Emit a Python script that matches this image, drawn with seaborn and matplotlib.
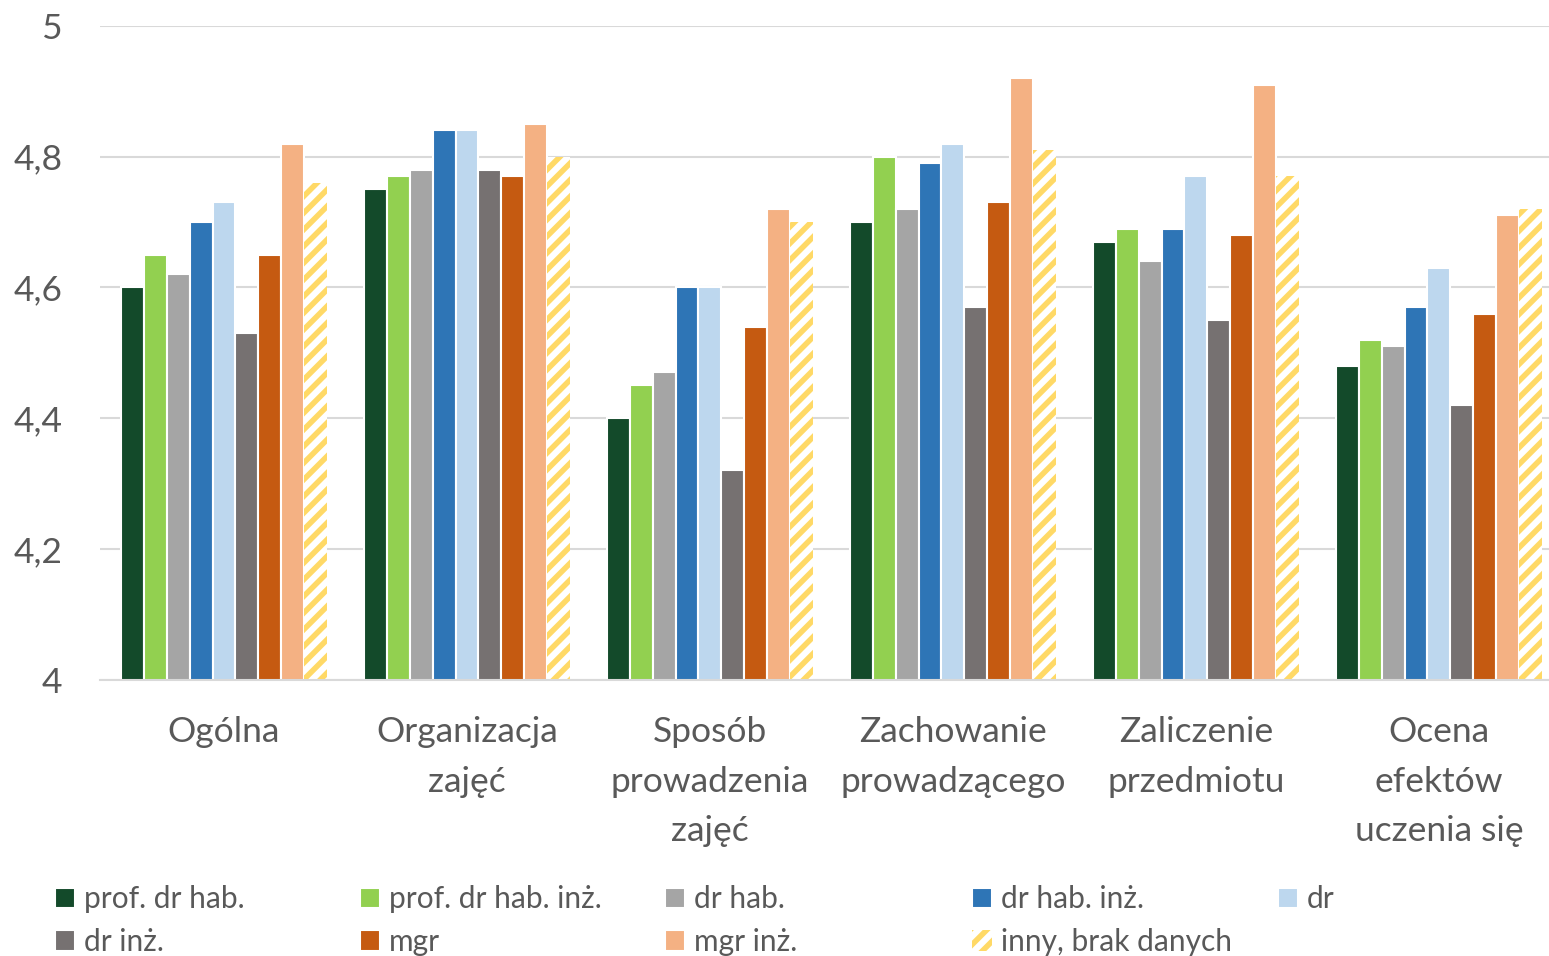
import matplotlib
matplotlib.use("Agg")
import matplotlib.pyplot as plt
import pandas as pd
import seaborn as sns

categories = [
    "Ogólna",
    "Organizacja\nzajęć",
    "Sposób\nprowadzenia\nzajęć",
    "Zachowanie\nprowadzącego",
    "Zaliczenie\nprzedmiotu",
    "Ocena\nefektów\nuczenia się",
]
groups = [
    "prof. dr hab.",
    "prof. dr hab. inż.",
    "dr hab.",
    "dr hab. inż.",
    "dr",
    "dr inż.",
    "mgr",
    "mgr inż.",
    "inny, brak danych",
]
prof_dr_hab = [4.60, 4.75, 4.40, 4.70, 4.67, 4.48]
prof_dr_hab_inz = [4.65, 4.77, 4.45, 4.80, 4.69, 4.52]
dr_hab = [4.62, 4.78, 4.47, 4.72, 4.64, 4.51]
dr_hab_inz = [4.70, 4.84, 4.60, 4.79, 4.69, 4.57]
dr = [4.73, 4.84, 4.60, 4.82, 4.77, 4.63]
dr_inz = [4.53, 4.78, 4.32, 4.57, 4.55, 4.42]
mgr = [4.65, 4.77, 4.54, 4.73, 4.68, 4.56]
mgr_inz = [4.82, 4.85, 4.72, 4.92, 4.91, 4.71]
inny = [4.76, 4.80, 4.70, 4.81, 4.77, 4.72]

series = [prof_dr_hab, prof_dr_hab_inz, dr_hab, dr_hab_inz, dr, dr_inz, mgr, mgr_inz, inny]
colors = ["#134A2A", "#92D050", "#A5A5A5", "#2E75B6", "#BDD7EE",
          "#767171", "#C55A11", "#F4B183", "#FFD966"]
yticks = [4.0, 4.2, 4.4, 4.6, 4.8, 5.0]
ytick_labels = ["4", "4,2", "4,4", "4,6", "4,8", "5"]

rows = []
for group, values in zip(groups, series):
    for cat, v in zip(categories, values):
        rows.append({"category": cat, "group": group, "value": v})
df = pd.DataFrame(rows)

sns.set_theme(style="white")
plt.rcParams["font.family"] = ["Lato", "DejaVu Sans"]
plt.rcParams["hatch.linewidth"] = 4.0
text_color = "#595959"

fig = plt.figure(figsize=(15.49, 9.56), dpi=100)
ax = fig.add_axes([0.0646, 0.289, 0.9354, 0.684])

sns.barplot(data=df, x="category", y="value", hue="group", order=categories,
            hue_order=groups, palette=colors, width=0.85, saturation=1,
            edgecolor="white", linewidth=1.5, legend=False, ax=ax)

# last series is drawn as yellow diagonal stripes on white
for patch in ax.containers[-1]:
    patch.set_facecolor("white")
    patch.set_edgecolor(colors[-1])
    patch.set_linewidth(0)
    patch.set_hatch("//")

ax.set_xlim(-0.51, 5.453)
ax.set_ylim(4.0, 5.0)
ax.set_yticks(yticks)
ax.set_yticklabels(ytick_labels)
ax.yaxis.grid(True, color="#D9D9D9", linewidth=1.5)
ax.set_axisbelow(True)
for side in ["top", "right", "left"]:
    ax.spines[side].set_visible(False)
ax.spines["bottom"].set_color("#D9D9D9")
ax.spines["bottom"].set_linewidth(1.5)
ax.set_xlabel("")
ax.set_ylabel("")
ax.tick_params(axis="both", length=0, labelcolor=text_color)
ax.tick_params(axis="x", labelsize=25.5, pad=26)
ax.tick_params(axis="y", labelsize=25.5, pad=27)
for lbl in ax.get_xticklabels():
    lbl.set_linespacing(1.68)
    lbl.set_va("top")

# legend: 5 columns at equal spacing, filled row-wise
handles = [c[0] for c in ax.containers]
col_x = [0.0355, 0.2324, 0.4293, 0.6275, 0.825]
for j, x in enumerate(col_x):
    idx = [i for i in (j, j + 5) if i < len(groups)]
    fig.legend([handles[i] for i in idx], [groups[i] for i in idx],
               loc="upper left", bbox_to_anchor=(x, 0.074), frameon=False,
               fontsize=21.5, labelcolor=text_color, handlelength=0.68,
               handleheight=0.68, handletextpad=0.3, labelspacing=0.5,
               borderpad=0, borderaxespad=0)

fig.savefig("out.png", dpi=100)
